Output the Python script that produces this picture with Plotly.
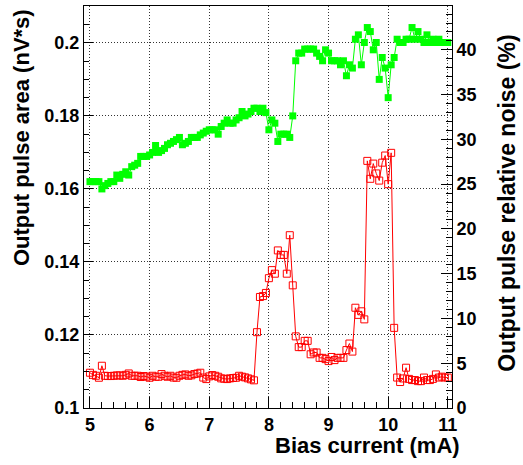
import plotly.graph_objects as go

# Bias current scan, 0.05 mA steps from 5.0 to 11.0 mA
bias_current = [round(5.0 + 0.05 * k, 2) for k in range(121)]

# Output pulse area (nV*s)
pulse_area = [
    0.1620, 0.1620, 0.1620, 0.1620, 0.1600, 0.1609, 0.1615, 0.1620, 0.1620, 0.1638,
    0.1629, 0.1640, 0.1647, 0.1638, 0.1661, 0.1665, 0.1670, 0.1689, 0.1689, 0.1689,
    0.1693, 0.1700, 0.1719, 0.1700, 0.1705, 0.1711, 0.1721, 0.1725, 0.1730, 0.1735,
    0.1741, 0.1721, 0.1725, 0.1730, 0.1741, 0.1741, 0.1741, 0.1748, 0.1753, 0.1758,
    0.1762, 0.1762, 0.1762, 0.1750, 0.1771, 0.1780, 0.1789, 0.1780, 0.1780, 0.1789,
    0.1795, 0.1812, 0.1800, 0.1805, 0.1812, 0.1821, 0.1821, 0.1812, 0.1821, 0.1809,
    0.1762, 0.1789, 0.1780, 0.1730, 0.1750, 0.1750, 0.1750, 0.1741, 0.1800, 0.1951,
    0.1972, 0.1972, 0.1983, 0.1983, 0.1983, 0.1983, 0.1972, 0.1963, 0.1951, 0.1981,
    0.1972, 0.1951, 0.1951, 0.1951, 0.1940, 0.1951, 0.1910, 0.1940, 0.1931, 0.2010,
    0.2022, 0.1940, 0.2001, 0.2042, 0.2031, 0.1981, 0.2001, 0.1900, 0.1960, 0.1931,
    0.1850, 0.1940, 0.1960, 0.2010, 0.2001, 0.2001, 0.2010, 0.2010, 0.2042, 0.2010,
    0.2031, 0.2010, 0.2001, 0.2022, 0.2001, 0.2010, 0.2001, 0.2010, 0.2001, 0.2001,
    0.2001,
]

# Output pulse relative noise (%)
relative_noise = [
    3.94, 3.70, 3.60, 3.38, 4.72, 3.60, 3.57, 3.57, 3.60, 3.64,
    3.64, 3.60, 3.70, 3.86, 3.60, 3.60, 3.60, 3.46, 3.57, 3.50,
    3.38, 3.60, 3.49, 3.49, 3.79, 3.60, 3.49, 3.60, 3.40, 3.38,
    3.60, 3.70, 3.75, 3.60, 3.65, 3.79, 3.85, 3.94, 3.40, 3.23,
    3.53, 3.68, 3.60, 3.49, 3.31, 3.27, 3.23, 3.31, 3.35, 3.38,
    3.60, 3.50, 3.42, 3.31, 3.20, 3.09, 8.47, 12.4, 12.5, 12.85,
    14.5, 15.4, 15.0, 17.6, 17.1, 17.1, 15.0, 19.3, 13.7, 8.0,
    6.8, 6.8, 7.5, 7.5, 6.0, 6.2, 6.2, 5.6, 5.6, 5.46,
    5.24, 5.7, 5.35, 5.6, 5.6, 5.6, 6.47, 7.2, 6.3, 11.2,
    10.4, 10.8, 9.9, 27.6, 25.6, 27.3, 26.2, 25.4, 27.4, 28.2,
    25.0, 28.5, 8.95, 3.4, 2.9, 3.3, 4.5, 3.25, 3.12, 3.12,
    3.0, 3.0, 3.4, 3.12, 3.12, 3.25, 3.75, 3.4, 3.5, 3.4,
    3.4,
]

FONT = "Liberation Sans, Arial, Helvetica, sans-serif"
tick_font = dict(family=FONT, size=18, color="black", weight="bold")
title_font = dict(family=FONT, size=22, color="black", weight="bold")
right_title_font = dict(family=FONT, size=23, color="black", weight="bold")

fig = go.Figure()

fig.add_trace(go.Scatter(
    x=bias_current, y=pulse_area, mode="lines+markers",
    line=dict(color="#00ff00", width=1),
    marker=dict(symbol="square", size=7, color="#00ff00"),
    yaxis="y",
))

fig.add_trace(go.Scatter(
    x=bias_current, y=relative_noise, mode="lines+markers",
    line=dict(color="#ff0000", width=1),
    marker=dict(symbol="square-open", size=7, color="#ff0000",
                line=dict(width=1, color="#ff0000")),
    yaxis="y2",
))

grid = dict(showgrid=True, gridcolor="#333333", griddash="1px,2px", gridwidth=1)

fig.update_layout(
    width=523, height=465,
    margin=dict(l=84, r=71, t=6, b=57),
    paper_bgcolor="white", plot_bgcolor="white",
    showlegend=False,
    xaxis=dict(
        range=[4.9, 11.07], tick0=5, dtick=1,
        ticks="inside", ticklen=11, tickwidth=1, tickcolor="black",
        minor=dict(dtick=0.2, ticks="inside", ticklen=6, tickcolor="black", showgrid=False),
        showline=True, linecolor="black", linewidth=1, mirror=True,
        tickfont=tick_font, zeroline=False, **grid,
    ),
    yaxis=dict(
        range=[0.1, 0.2101], tick0=0.1, dtick=0.02,
        ticks="inside", ticklen=9, tickwidth=1, tickcolor="black",
        minor=dict(dtick=0.005, ticks="inside", ticklen=5, tickcolor="black", showgrid=False),
        showline=True, linecolor="black", linewidth=1, mirror=True,
        tickfont=tick_font, zeroline=False, **grid,
    ),
    yaxis2=dict(
        range=[0, 44.9], tick0=0, dtick=5,
        overlaying="y", side="right", anchor="x",
        ticks="inside", ticklen=11, tickwidth=1, tickcolor="black",
        minor=dict(dtick=1, ticks="inside", ticklen=6, tickcolor="black"),
        showline=True, linecolor="black", linewidth=1,
        showgrid=False, zeroline=False, tickfont=tick_font,
    ),
    annotations=[
        dict(text="Bias current (mA)", xref="paper", yref="paper",
             x=1.027, y=-0.0945, xanchor="right", yanchor="middle",
             showarrow=False, font=title_font),
        dict(text="Output pulse area (nV*s)", xref="paper", yref="paper",
             x=-0.168, y=0.672, xanchor="center", yanchor="middle",
             textangle=-90, showarrow=False, font=title_font),
        dict(text="Output pulse relative noise (%)", xref="paper", yref="paper",
             x=1.149, y=0.51, xanchor="center", yanchor="middle",
             textangle=-90, showarrow=False, font=right_title_font),
    ],
)

fig.write_html("out.html")
